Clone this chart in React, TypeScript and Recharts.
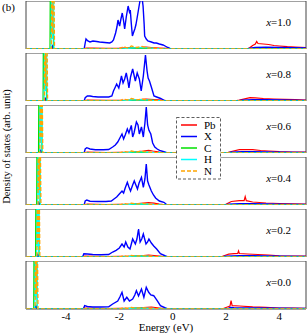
import React from 'react';
import { LineChart, Line, XAxis, YAxis, ReferenceArea } from 'recharts';

type P = [number, number];

// ---------- axis values ----------
const energyTicks = [-5, -4, -3, -2, -1, 0, 1, 2, 3, 4];
const energyLabels = [-4, -2, 0, 2, 4];
const energyDomain: [number, number] = [-5.5, 5];
const dosDomain: [number, number] = [0, 48];
const compositions = ['1.0', '0.8', '0.6', '0.4', '0.2', '0.0'];
const speciesNames = ['Pb', 'X', 'C', 'H', 'N'];

// ---------- x = 1.0 ----------
const x10Pb: P[] = [[-5.5,0],[-3.35,0],[-3.25,1],[-3.0,0.8],[-2.5,0.6],[-2.0,0.8],[-1.6,1.2],[-1.2,1.6],[-1.0,2],[-0.8,1.5],[-0.5,1],[-0.2,0.6],[0,0],[2.8,0],[2.9,1.5],[3.0,3.5],[3.1,5],[3.15,7.5],[3.2,5.5],[3.4,5],[3.6,4.5],[3.8,3.5],[4.0,3],[4.3,2.3],[4.6,2],[5,1.5]];
const x10X: P[] = [[-5.5,0],[-4.55,0],[-4.5,3],[-4.45,0],[-3.32,0],[-3.28,6],[-3.25,10],[-3.18,8],[-3.1,7],[-2.99,8],[-2.85,7.5],[-2.74,7],[-2.55,6.5],[-2.36,6],[-2.28,7],[-2.22,9],[-2.14,16],[-2.09,22],[-2.05,29],[-1.99,23],[-1.94,30],[-1.89,36],[-1.84,28],[-1.8,20],[-1.74,32],[-1.67,43],[-1.62,37],[-1.59,39],[-1.55,25],[-1.51,13],[-1.46,17],[-1.42,20],[-1.38,24],[-1.34,30],[-1.29,38],[-1.24,46],[-1.17,56],[-1.11,43],[-1.07,25],[-1.05,13],[-0.99,10],[-0.93,8],[-0.8,7],[-0.7,6],[-0.61,6],[-0.5,5],[-0.36,4],[-0.25,2.5],[-0.18,1.5],[-0.1,0.5],[-0.05,0],[2.8,0],[2.9,0.8],[3.1,1.5],[3.5,1.8],[4.0,1.5],[4.5,1.2],[5,1]];
const x10C: P[] = [[-5.5,0],[-4.6,0],[-4.58,120],[-4.56,12],[-4.54,120],[-4.52,18],[-4.5,120],[-4.47,0],[-1.9,0],[-1.6,0.8],[-1.2,1],[-0.8,0.6],[-0.3,0],[5,0]];
const x10H: P[] = [[-5.5,0],[-4.56,0],[-4.54,120],[-4.51,10],[-4.48,120],[-4.45,0],[-1.9,0],[-1.5,1.2],[-1.1,1.5],[-0.7,0.6],[-0.3,0],[5,0]];
const x10N: P[] = [[-5.5,0],[-4.55,0],[-4.53,120],[-4.5,15],[-4.47,120],[-4.43,0],[-2.0,0],[-1.85,2.5],[-1.7,1],[-1.55,3],[-1.35,1.5],[-1.15,2.5],[-0.95,1.2],[-0.6,0.5],[-0.3,0],[5,0]];

// ---------- x = 0.8 ----------
const x08Pb: P[] = [[-5.5,0],[-3.35,0],[-3.2,1],[-2.5,0.6],[-1.5,1],[-1.0,1.8],[-0.7,1.5],[-0.4,0.8],[-0.1,0],[2.3,0],[2.5,1],[2.7,2.2],[2.9,3.3],[3.1,3.2],[3.4,2.5],[3.8,2],[4.2,1.6],[4.6,1.3],[5,1]];
const x08X: P[] = [[-5.5,0],[-4.82,0],[-4.77,2.5],[-4.72,0],[-3.32,0],[-3.28,3.3],[-3.2,5],[-3.1,5],[-3.0,4.5],[-2.8,4],[-2.6,4],[-2.4,4],[-2.28,5],[-2.22,10],[-2.15,14],[-2.1,17],[-2.02,13],[-1.96,20],[-1.92,25],[-1.86,18],[-1.8,22],[-1.74,28],[-1.68,20],[-1.64,13],[-1.58,24],[-1.5,32],[-1.45,26],[-1.4,20],[-1.33,28],[-1.25,22],[-1.18,10],[-1.1,25],[-1.02,46],[-0.96,30],[-0.92,23],[-0.87,20],[-0.8,14],[-0.7,5],[-0.6,4],[-0.45,2.5],[-0.34,1],[-0.27,0],[2.4,0],[2.6,0.8],[3.0,1.2],[3.5,1.2],[4.0,1],[4.5,0.8],[5,0.6]];
const x08C: P[] = [[-5.5,0],[-4.86,0],[-4.84,120],[-4.82,12],[-4.8,120],[-4.78,18],[-4.76,120],[-4.73,0],[-1.9,0],[-1.6,0.8],[-1.2,1],[-0.8,0.6],[-0.3,0],[5,0]];
const x08H: P[] = [[-5.5,0],[-4.82,0],[-4.8,120],[-4.77,10],[-4.74,120],[-4.71,0],[-1.9,0],[-1.5,1.2],[-1.1,1.3],[-0.7,0.6],[-0.3,0],[5,0]];
const x08N: P[] = [[-5.5,0],[-4.81,0],[-4.79,120],[-4.76,15],[-4.73,120],[-4.69,0],[-2.0,0],[-1.85,2],[-1.7,1],[-1.55,2.5],[-1.35,1.2],[-1.15,2],[-0.95,1],[-0.6,0.4],[-0.3,0],[5,0]];

// ---------- x = 0.6 ----------
const x06Pb: P[] = [[-5.5,0],[-3.35,0],[-3.2,0.8],[-2.5,0.5],[-1.5,1],[-1.1,2],[-0.9,2.7],[-0.75,2],[-0.5,1],[-0.2,0],[2.0,0],[2.2,1.5],[2.5,3.3],[3.0,3.3],[3.3,2.5],[3.6,2],[4.0,1.3],[4.5,1],[5,0.8]];
const x06X: P[] = [[-5.5,0],[-5.0,0],[-4.95,2.5],[-4.9,0],[-3.32,0],[-3.28,4],[-3.22,5.3],[-3.1,4],[-2.9,3.3],[-2.6,3.3],[-2.4,3.5],[-2.25,6],[-2.15,8],[-2.06,11],[-1.98,15],[-1.9,19],[-1.84,14],[-1.78,18],[-1.7,24],[-1.64,20],[-1.55,27.6],[-1.5,16],[-1.45,20],[-1.36,31],[-1.3,28],[-1.25,19],[-1.17,26],[-1.1,16],[-1.04,30],[-0.99,46],[-0.94,28],[-0.89,22.7],[-0.82,19],[-0.75,10],[-0.67,6],[-0.58,4],[-0.49,2.7],[-0.3,1],[-0.2,0],[2.0,0],[2.2,0.8],[2.6,1.3],[3.0,1.2],[3.5,1],[4,0.8],[5,0.6]];
const x06C: P[] = [[-5.5,0],[-5.03,0],[-5.01,120],[-4.99,12],[-4.97,120],[-4.95,18],[-4.93,120],[-4.9,0],[-1.9,0],[-1.6,0.7],[-1.2,0.9],[-0.8,0.5],[-0.3,0],[5,0]];
const x06H: P[] = [[-5.5,0],[-4.99,0],[-4.97,120],[-4.94,10],[-4.92,120],[-4.89,0],[-1.9,0],[-1.5,1],[-1.1,1.2],[-0.7,0.5],[-0.3,0],[5,0]];
const x06N: P[] = [[-5.5,0],[-4.98,0],[-4.96,120],[-4.93,15],[-4.91,120],[-4.87,0],[-2.0,0],[-1.85,1.5],[-1.7,0.8],[-1.55,2],[-1.35,1],[-1.15,1.8],[-0.95,1],[-0.6,0.4],[-0.3,0],[5,0]];

// ---------- x = 0.4 ----------
const x04Pb: P[] = [[-5.5,0],[-3.35,0],[-3.2,0.8],[-2.5,0.5],[-1.5,1],[-1.1,2],[-0.9,2.4],[-0.7,1.8],[-0.5,1],[-0.2,0],[1.95,0],[2.05,1.5],[2.2,3.5],[2.5,4.3],[2.68,4.3],[2.72,8.3],[2.76,4.3],[3.0,3],[3.5,2],[4.0,1.5],[4.5,1.2],[5,1]];
const x04X: P[] = [[-5.5,0],[-5.07,0],[-5.02,2.5],[-4.97,0],[-3.32,0],[-3.28,4],[-3.22,5],[-3.1,3.8],[-2.8,3.5],[-2.5,3.5],[-2.3,4],[-2.2,6],[-2.1,8],[-2.0,11],[-1.9,14],[-1.84,12],[-1.78,17],[-1.7,22.7],[-1.64,18],[-1.58,14],[-1.5,20],[-1.44,24],[-1.38,20],[-1.32,16],[-1.26,22],[-1.17,27.7],[-1.1,17.7],[-1.04,26],[-0.99,41],[-0.94,24],[-0.89,20],[-0.8,14],[-0.72,10],[-0.64,7],[-0.5,4],[-0.33,2.7],[-0.25,1],[-0.18,0],[1.95,0],[2.1,0.8],[2.5,1.2],[3,1.2],[3.5,1],[4,0.8],[5,0.6]];
const x04C: P[] = [[-5.5,0],[-5.1,0],[-5.08,120],[-5.06,12],[-5.04,120],[-5.02,18],[-5.0,120],[-4.97,0],[-1.9,0],[-1.6,0.6],[-1.2,0.8],[-0.8,0.5],[-0.3,0],[5,0]];
const x04H: P[] = [[-5.5,0],[-5.06,0],[-5.04,120],[-5.01,10],[-4.99,120],[-4.96,0],[-1.9,0],[-1.5,0.9],[-1.1,1.1],[-0.7,0.5],[-0.3,0],[5,0]];
const x04N: P[] = [[-5.5,0],[-5.05,0],[-5.03,120],[-5.0,15],[-4.98,120],[-4.94,0],[-2.0,0],[-1.85,1.5],[-1.7,0.8],[-1.55,1.8],[-1.35,1],[-1.15,1.6],[-0.95,0.9],[-0.6,0.4],[-0.3,0],[5,0]];

// ---------- x = 0.2 ----------
const x02Pb: P[] = [[-5.5,0],[-3.4,0],[-3.3,0.8],[-2.5,0.5],[-1.5,0.8],[-1.1,1.5],[-0.9,2],[-0.7,1.5],[-0.4,0.6],[-0.15,0],[1.8,0],[1.95,1.5],[2.1,2.8],[2.3,3.3],[2.44,3.5],[2.47,6],[2.5,3.5],[2.8,3],[3.2,2.5],[3.6,2],[4.0,1.2],[4.5,1],[5,0.8]];
const x02X: P[] = [[-5.5,0],[-5.11,0],[-5.06,2.5],[-5.01,0],[-3.38,0],[-3.33,3.3],[-3.2,3],[-3.0,2.5],[-2.7,2.3],[-2.4,2.5],[-2.25,5],[-2.12,6.7],[-2.0,9],[-1.9,13],[-1.82,10],[-1.76,15],[-1.68,10],[-1.6,8],[-1.5,18],[-1.4,13],[-1.34,18],[-1.28,28],[-1.22,15],[-1.16,18],[-1.1,23],[-1.0,13],[-0.94,15],[-0.89,18],[-0.8,14],[-0.71,11],[-0.6,8],[-0.46,3.3],[-0.27,1],[-0.18,0],[1.8,0],[2.0,0.8],[2.5,1.2],[3.0,1.2],[3.5,1],[4,0.8],[5,0.5]];
const x02C: P[] = [[-5.5,0],[-5.14,0],[-5.12,120],[-5.1,12],[-5.08,120],[-5.06,18],[-5.04,120],[-5.01,0],[-1.9,0],[-1.6,0.6],[-1.2,0.8],[-0.8,0.5],[-0.3,0],[5,0]];
const x02H: P[] = [[-5.5,0],[-5.1,0],[-5.08,120],[-5.05,10],[-5.03,120],[-5.0,0],[-1.9,0],[-1.5,0.8],[-1.1,1],[-0.7,0.4],[-0.3,0],[5,0]];
const x02N: P[] = [[-5.5,0],[-5.09,0],[-5.07,120],[-5.04,15],[-5.02,120],[-4.98,0],[-2.0,0],[-1.85,1.3],[-1.7,0.7],[-1.55,1.6],[-1.35,0.9],[-1.15,1.4],[-0.95,0.8],[-0.6,0.3],[-0.3,0],[5,0]];

// ---------- x = 0.0 ----------
const x00Pb: P[] = [[-5.5,0],[-3.4,0],[-3.3,0.8],[-2.5,0.5],[-1.5,0.8],[-1.1,1.5],[-0.8,2],[-0.5,1],[-0.15,0],[1.85,0],[2.0,1.5],[2.15,3],[2.19,8.3],[2.23,3.3],[2.5,3],[3,2.2],[3.5,1.7],[4.0,1],[4.5,0.8],[5,0.6]];
const x00X: P[] = [[-5.5,0],[-5.18,0],[-5.13,3],[-5.08,0],[-3.35,0],[-3.3,3.3],[-3.2,2.5],[-3.0,2],[-2.7,2],[-2.4,2.2],[-2.25,5],[-2.06,8],[-1.98,12],[-1.9,16.7],[-1.82,8],[-1.72,11.7],[-1.62,8],[-1.5,10],[-1.42,14],[-1.36,18.3],[-1.28,13],[-1.17,20],[-1.08,11.7],[-0.99,21.7],[-0.9,16.7],[-0.82,14],[-0.71,13.3],[-0.58,8.3],[-0.46,3.3],[-0.27,1],[-0.18,0],[2.05,0],[2.15,1.5],[2.3,1.2],[3,1],[4,0.8],[5,0.5]];
const x00C: P[] = [[-5.5,0],[-5.21,0],[-5.19,120],[-5.17,12],[-5.15,120],[-5.13,18],[-5.11,120],[-5.08,0],[-1.9,0],[-1.6,0.6],[-1.2,0.7],[-0.8,0.4],[-0.3,0],[5,0]];
const x00H: P[] = [[-5.5,0],[-5.17,0],[-5.15,120],[-5.12,10],[-5.1,120],[-5.07,0],[-1.9,0],[-1.5,0.8],[-1.1,0.9],[-0.7,0.4],[-0.3,0],[5,0]];
const x00N: P[] = [[-5.5,0],[-5.16,0],[-5.14,120],[-5.11,15],[-5.09,120],[-5.05,0],[-2.0,0],[-1.85,1.2],[-1.7,0.6],[-1.55,1.5],[-1.35,0.8],[-1.15,1.3],[-0.95,0.7],[-0.6,0.3],[-0.3,0],[5,0]];

const panelSeries: P[][][] = [
  [x10Pb, x10X, x10C, x10H, x10N],
  [x08Pb, x08X, x08C, x08H, x08N],
  [x06Pb, x06X, x06C, x06H, x06N],
  [x04Pb, x04X, x04C, x04H, x04N],
  [x02Pb, x02X, x02C, x02H, x02N],
  [x00Pb, x00X, x00C, x00H, x00N],
];

// ---------- styles ----------
const FONT = '"Liberation Serif", "DejaVu Serif", serif';
const seriesStyle = [
  { stroke: '#ff0000', width: 1.2, dash: undefined as string | undefined },
  { stroke: '#0000ff', width: 1.4, dash: undefined as string | undefined },
  { stroke: '#00e000', width: 1.2, dash: undefined as string | undefined },
  { stroke: '#00ffff', width: 1.2, dash: undefined as string | undefined },
  { stroke: '#ffa500', width: 1.3, dash: '4 2' as string | undefined },
];
const PANEL_H = 48;
const PANEL_STEP = 52;
const PANEL_TOP0 = 1;
const LABEL_H = 24;

const toPts = (arr: P[]) => arr.map(([e, v]) => ({ e, v }));

function Panel({ index }: { index: number }) {
  const last = index === panelSeries.length - 1;
  const series = panelSeries[index];
  return (
    <div style={{ position: 'absolute', left: 0, top: PANEL_TOP0 + index * PANEL_STEP }}>
      <LineChart
        width={308}
        height={PANEL_H + (last ? LABEL_H : 0)}
        margin={{ top: 0, right: 2, bottom: 0, left: 26 }}
      >
        <XAxis
          xAxisId="b"
          dataKey="e"
          type="number"
          domain={energyDomain}
          allowDataOverflow
          ticks={energyTicks}
          interval={0}
          tick={false}
          tickSize={5}
          mirror
          axisLine={false}
          tickLine={{ stroke: '#666', strokeWidth: 1 }}
        />
        <XAxis
          xAxisId="t"
          orientation="top"
          dataKey="e"
          type="number"
          domain={energyDomain}
          allowDataOverflow
          ticks={energyTicks}
          interval={0}
          tick={false}
          tickSize={5}
          mirror
          axisLine={false}
          tickLine={{ stroke: '#666', strokeWidth: 1 }}
        />
        {last && (
          <XAxis
            xAxisId="lab"
            dataKey="e"
            type="number"
            domain={energyDomain}
            allowDataOverflow
            ticks={energyLabels}
            interval={0}
            tickLine={false}
            axisLine={false}
            tickSize={0}
            tickMargin={3}
            height={LABEL_H}
            tick={{ fontSize: 11, fill: '#000', fontFamily: FONT }}
          />
        )}
        <YAxis yAxisId="l" hide type="number" domain={dosDomain} allowDataOverflow />
        <ReferenceArea
          xAxisId="b"
          yAxisId="l"
          x1={energyDomain[0]}
          x2={energyDomain[1]}
          y1={dosDomain[0]}
          y2={dosDomain[1]}
          fill="none"
          stroke="#444"
          strokeWidth={1}
          ifOverflow="visible"
        />
        {series.map((s, i) => (
          <Line
            key={speciesNames[i]}
            xAxisId="b"
            yAxisId="l"
            data={toPts(s)}
            dataKey="v"
            name={speciesNames[i]}
            type="linear"
            stroke={seriesStyle[i].stroke}
            strokeWidth={seriesStyle[i].width}
            strokeDasharray={seriesStyle[i].dash}
            dot={false}
            activeDot={false}
            isAnimationActive={false}
          />
        ))}
      </LineChart>
    </div>
  );
}

export default function App() {
  const legendTop = 117.5;
  const legendStep = 11.5;
  return (
    <div
      style={{
        position: 'absolute',
        left: 0,
        top: 0,
        width: 308,
        height: 336,
        background: '#fff',
        fontFamily: FONT,
      }}
    >
      {panelSeries.map((_, i) => (
        <Panel key={i} index={i} />
      ))}
      <svg
        width={308}
        height={336}
        style={{ position: 'absolute', left: 0, top: 0, pointerEvents: 'none' }}
        fontFamily={FONT}
      >
        <text x={2} y={11} fontSize={11} fill="#000">(b)</text>
        <text
          x={10}
          y={146.5}
          fontSize={10.5}
          fill="#000"
          textAnchor="middle"
          transform="rotate(-90 10 146.5)"
        >
          Density of states (arb. unit)
        </text>
        <text x={166} y={331} fontSize={11} fill="#000" textAnchor="middle">Energy (eV)</text>
        {compositions.map((c, i) => (
          <text
            key={c}
            x={291}
            y={PANEL_TOP0 + i * PANEL_STEP + 25}
            fontSize={11}
            fill="#000"
            textAnchor="end"
          >
            <tspan fontStyle="italic">x</tspan>
            <tspan>={c}</tspan>
          </text>
        ))}
        <rect
          x={176.5}
          y={legendTop}
          width={44}
          height={61.5}
          fill="#fff"
          stroke="#333"
          strokeWidth={0.8}
          strokeDasharray="3 2"
        />
        {speciesNames.map((n, i) => {
          const cy = legendTop + 7.5 + i * legendStep;
          return (
            <g key={n}>
              <line
                x1={181}
                x2={197}
                y1={cy}
                y2={cy}
                stroke={seriesStyle[i].stroke}
                strokeWidth={1.5}
                strokeDasharray={seriesStyle[i].dash}
              />
              <text x={204} y={cy + 3.8} fontSize={11} fill="#000">{n}</text>
            </g>
          );
        })}
      </svg>
    </div>
  );
}
